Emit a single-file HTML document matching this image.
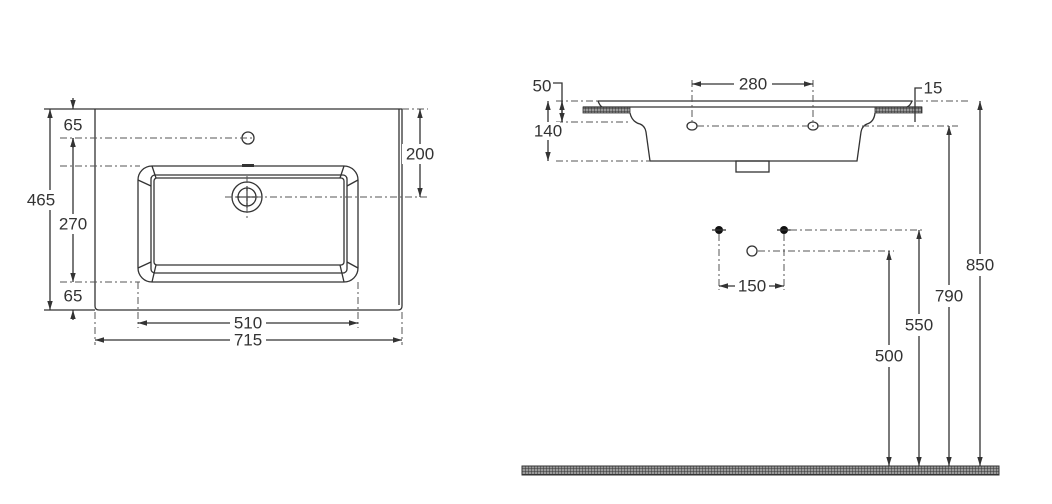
<!DOCTYPE html>
<html><head><meta charset="utf-8"><style>
html,body{margin:0;padding:0;background:#fff}
svg{display:block}
text{font-family:"Liberation Sans",sans-serif;font-size:17px;fill:#333;text-anchor:middle;dominant-baseline:central}
.l{stroke:#333;stroke-width:1.3;fill:none}
.d{stroke:#555;stroke-width:1;fill:none;stroke-dasharray:7 3 2 3}
.w{fill:#fff}
</style></head><body>
<svg width="1052" height="504" viewBox="0 0 1052 504">
<defs>
<marker id="a" viewBox="0 0 10 10" refX="10" refY="5" markerWidth="7" markerHeight="7" orient="auto-start-reverse"><path d="M0,2 L10,5 L0,8z" fill="#333"/></marker>
<pattern id="h" width="3" height="3" patternUnits="userSpaceOnUse"><rect width="3" height="3" fill="#999"/><path d="M0,0H3M0,0V3" stroke="#333" stroke-width="1"/></pattern>
</defs>
<!-- LEFT PLAN -->
<path class="l" d="M95,109 V306 Q95,310 99,310 H398 Q402,310 402,306 V109"/>
<line class="l" x1="399" y1="109" x2="399" y2="305" stroke-width="1"/>
<line class="l" x1="95" y1="109" x2="402" y2="109"/>
<rect class="l" x="138" y="166" width="220" height="116" rx="14"/>
<rect class="l" x="151" y="175" width="196" height="98" rx="4"/>
<rect class="l" x="154" y="178" width="190" height="87" rx="3"/>
<path class="l" d="M138,180 L151,186 M358,180 L347,186 M138,268 L151,262 M358,268 L347,262 M152,166 L156,178 M344,166 L340,178 M152,282 L156,265 M344,282 L340,265"/>
<rect x="242" y="164" width="12" height="3" fill="#333"/>
<circle class="l" cx="248" cy="138" r="6"/>
<circle class="l" cx="247" cy="197" r="15"/>
<circle class="l" cx="247" cy="197" r="9"/>
<path class="l" d="M247,186V208M236,197H258" stroke-width="1"/>
<line class="d" x1="60" y1="138" x2="255" y2="138"/>
<line class="d" x1="60" y1="166" x2="140" y2="166"/>
<line class="d" x1="60" y1="282" x2="140" y2="282"/>
<line class="d" x1="225" y1="197" x2="428" y2="197"/>
<line class="d" x1="247" y1="176" x2="247" y2="218"/>
<line class="d" x1="138" y1="282" x2="138" y2="328"/>
<line class="d" x1="358" y1="282" x2="358" y2="328"/>
<line class="d" x1="95" y1="312" x2="95" y2="345"/>
<line class="d" x1="402" y1="312" x2="402" y2="345"/>
<line class="d" x1="402" y1="109" x2="428" y2="109"/>
<!-- left dims -->
<line class="l" x1="50" y1="109" x2="50" y2="310" marker-start="url(#a)" marker-end="url(#a)"/>
<line class="l" x1="44" y1="109" x2="95" y2="109" stroke-width="1"/>
<line class="l" x1="44" y1="310" x2="95" y2="310" stroke-width="1"/>
<line class="l" x1="73" y1="98" x2="73" y2="109" marker-end="url(#a)"/>
<line class="l" x1="73" y1="138" x2="73" y2="282" marker-start="url(#a)" marker-end="url(#a)"/>
<line class="l" x1="73" y1="148" x2="73" y2="138" marker-end="url(#a)"/>
<line class="l" x1="73" y1="320" x2="73" y2="310" marker-end="url(#a)"/>
<rect class="w" x="28" y="190" width="28" height="20"/><text x="41" y="200">465</text>
<rect class="w" x="56" y="214" width="36" height="20"/><text x="73" y="224">270</text>
<text x="73" y="125">65</text><text x="73" y="296">65</text>
<line class="l" x1="420" y1="109" x2="420" y2="197" marker-start="url(#a)" marker-end="url(#a)"/>
<rect class="w" x="402" y="144" width="36" height="20"/><text x="420" y="154">200</text>
<line class="l" x1="138" y1="323" x2="358" y2="323" marker-start="url(#a)" marker-end="url(#a)"/>
<rect class="w" x="230" y="313" width="36" height="20"/><text x="248" y="323">510</text>
<line class="l" x1="95" y1="340" x2="402" y2="340" marker-start="url(#a)" marker-end="url(#a)"/>
<rect class="w" x="230" y="330" width="36" height="20"/><text x="248" y="340">715</text>
<!-- RIGHT ELEVATION -->
<line class="d" x1="556" y1="101" x2="970" y2="101"/>
<line class="l" x1="598" y1="101" x2="912" y2="101"/>
<path class="l" d="M598,101 Q600,106 602,107 M912,101 Q910,106 907,107"/>
<rect x="583" y="107" width="47" height="6" fill="url(#h)" stroke="#333" stroke-width="0.8"/>
<rect x="875" y="107" width="47" height="6" fill="url(#h)" stroke="#333" stroke-width="0.8"/>
<line class="l" x1="583" y1="107" x2="922" y2="107"/>
<path class="l" d="M630,113 Q632,122 640,124 Q645,126 646,132 L650,161 H857 L861,132 Q862,126 867,124 Q874,122 875,113"/>
<rect class="l" x="736" y="161" width="33" height="11" stroke-width="1"/>
<ellipse class="l" cx="692" cy="126" rx="5" ry="4"/>
<ellipse class="l" cx="813" cy="126" rx="5" ry="4"/>
<line class="d" x1="697" y1="126" x2="958" y2="126"/>
<line class="d" x1="692" y1="80" x2="692" y2="122"/>
<line class="d" x1="813" y1="80" x2="813" y2="122"/>
<line class="d" x1="556" y1="122" x2="630" y2="122"/>
<line class="d" x1="556" y1="161" x2="650" y2="161"/>
<line class="l" x1="692" y1="84" x2="813" y2="84" marker-start="url(#a)" marker-end="url(#a)"/>
<rect class="w" x="734" y="74" width="38" height="20"/><text x="753" y="84">280</text>
<path class="l" d="M553,83 H562 V122" stroke-width="1"/>
<line class="l" x1="562" y1="101" x2="562" y2="122" marker-start="url(#a)" marker-end="url(#a)"/>
<text x="542" y="86">50</text>
<line class="l" x1="548" y1="101" x2="548" y2="161" marker-start="url(#a)" marker-end="url(#a)"/>
<rect class="w" x="532" y="122" width="28" height="18"/><text x="548" y="131">140</text>
<path class="l" d="M922,88 H915 V122" stroke-width="1"/>
<text x="933" y="88">15</text>
<!-- supply points -->
<circle cx="719" cy="230" r="4" fill="#111"/><line class="l" x1="712" y1="230" x2="726" y2="230"/>
<circle cx="784" cy="230" r="4" fill="#111"/><line class="l" x1="777" y1="230" x2="791" y2="230"/>
<circle class="l" cx="752" cy="251" r="5" stroke-width="1"/>
<line class="d" x1="790" y1="230" x2="924" y2="230"/>
<line class="d" x1="758" y1="251" x2="894" y2="251"/>
<line class="d" x1="719" y1="234" x2="719" y2="290"/>
<line class="d" x1="784" y1="234" x2="784" y2="290"/>
<line class="l" x1="719" y1="286" x2="784" y2="286" marker-start="url(#a)" marker-end="url(#a)"/>
<rect class="w" x="735" y="276" width="34" height="20"/><text x="752" y="286">150</text>
<!-- height dims -->
<line class="l" x1="980" y1="101" x2="980" y2="466" marker-start="url(#a)" marker-end="url(#a)"/>
<rect class="w" x="962" y="254" width="36" height="22"/><text x="980" y="265">850</text>
<line class="l" x1="949" y1="126" x2="949" y2="466" marker-start="url(#a)" marker-end="url(#a)"/>
<rect class="w" x="931" y="285" width="36" height="22"/><text x="949" y="296">790</text>
<line class="l" x1="919" y1="230" x2="919" y2="466" marker-start="url(#a)" marker-end="url(#a)"/>
<rect class="w" x="901" y="314" width="36" height="22"/><text x="919" y="325">550</text>
<line class="l" x1="889" y1="251" x2="889" y2="466" marker-start="url(#a)" marker-end="url(#a)"/>
<rect class="w" x="871" y="345" width="36" height="22"/><text x="889" y="356">500</text>
<!-- floor -->
<rect x="522" y="466" width="477" height="9" fill="url(#h)" stroke="#333" stroke-width="1"/>
</svg>
</body></html>
